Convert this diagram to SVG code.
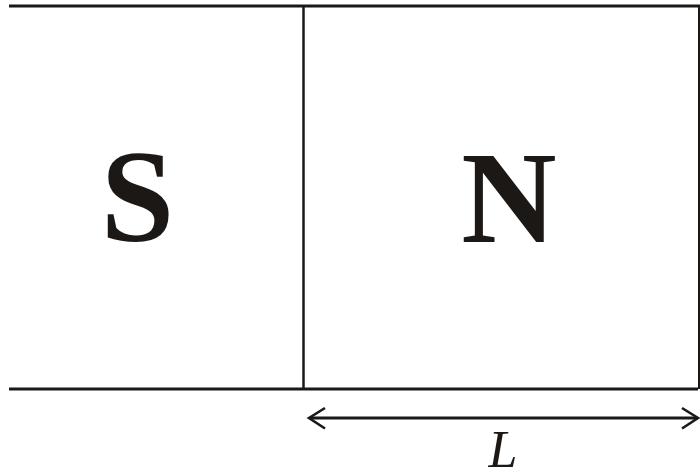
<svg xmlns="http://www.w3.org/2000/svg" width="700" height="471" viewBox="0 0 700 471">
<defs>
<style>
.ln{stroke:#1c1815;fill:none;stroke-linecap:butt}
.pole{font-family:"Liberation Serif",serif;font-weight:bold;font-size:132px;fill:#1c1815;text-anchor:middle}
.lbl{font-family:"Liberation Serif",serif;font-style:italic;font-size:52px;fill:#1c1815;text-anchor:middle}
</style>
</defs>
<rect width="700" height="471" fill="#fff"/>
<g id="magnet">
<line class="ln" x1="9" y1="6" x2="700" y2="6" stroke-width="3"/>
<line class="ln" x1="9" y1="389" x2="698" y2="389" stroke-width="3"/>
<line class="ln" x1="303.5" y1="6" x2="303.5" y2="389" stroke-width="2.5"/>
<line class="ln" x1="699" y1="6" x2="699" y2="389" stroke-width="2"/>
</g>
<g id="S"><text class="pole" x="137.5" y="241">S</text></g>
<g id="N"><text class="pole" x="509" y="242">N</text></g>
<g id="connectors">
<line class="ln" x1="310" y1="418" x2="696" y2="418" stroke-width="3"/>
<path class="ln" d="M325,408 L309,418 L325,428.5" stroke-width="2.6"/>
<path class="ln" d="M682,408 L698,418 L682,428.5" stroke-width="2.6"/>
</g>
<g id="Llabel"><text class="lbl" x="503" y="467">L</text></g>
</svg>
